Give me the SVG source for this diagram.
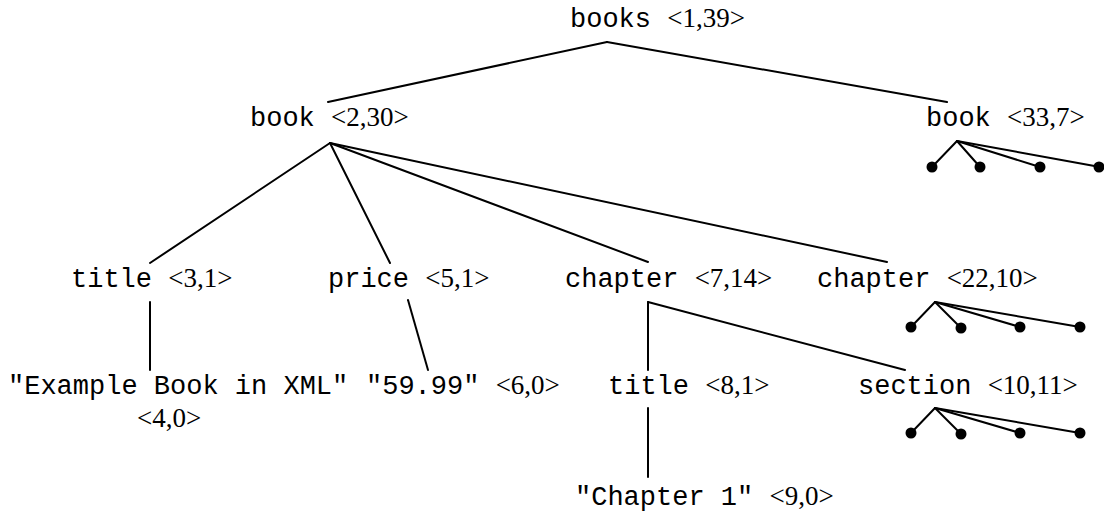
<svg xmlns="http://www.w3.org/2000/svg" width="1104" height="518" viewBox="0 0 1104 518">
  <style>
    .lbl { font-family: "Liberation Mono", "Courier New", monospace; font-size: 27px; fill: #000; }
    .num { font-family: "Liberation Serif", "Times New Roman", serif; font-size: 27px; }
    .edge { stroke: #000; stroke-width: 2; fill: none; stroke-linecap: round; }
    .leaf { fill: #000; }
  </style>
  <rect width="1104" height="518" fill="#fff"/>

  <!-- tree edges -->
  <g id="edges" class="edge">
    <line x1="607" y1="42" x2="328" y2="102"/>
    <line x1="607" y1="42" x2="947" y2="102"/>
    <line x1="330" y1="143" x2="150" y2="263"/>
    <line x1="330" y1="143" x2="390" y2="263"/>
    <line x1="330" y1="143" x2="648" y2="262"/>
    <line x1="330" y1="143" x2="887" y2="262"/>
    <line x1="150" y1="302" x2="150" y2="370"/>
    <line x1="408" y1="300" x2="428" y2="370"/>
    <line x1="648" y1="302" x2="648" y2="370"/>
    <line x1="648" y1="302" x2="905" y2="370"/>
    <line x1="648" y1="408" x2="648" y2="477"/>
    <!-- collapsed subtrees -->
    <g id="stub-book-33">
      <line x1="957" y1="141" x2="932" y2="167"/>
      <line x1="957" y1="141" x2="980" y2="167"/>
      <line x1="957" y1="141" x2="1040" y2="167"/>
      <line x1="957" y1="141" x2="1100" y2="167"/>
    </g>
    <g id="stub-chapter-22">
      <line x1="935" y1="302" x2="911" y2="327"/>
      <line x1="935" y1="302" x2="961" y2="328"/>
      <line x1="935" y1="302" x2="1020" y2="327"/>
      <line x1="935" y1="302" x2="1080" y2="327"/>
    </g>
    <g id="stub-section-10">
      <line x1="935" y1="408" x2="911" y2="433"/>
      <line x1="935" y1="408" x2="961" y2="434"/>
      <line x1="935" y1="408" x2="1020" y2="433"/>
      <line x1="935" y1="408" x2="1080" y2="433"/>
    </g>
  </g>

  <g id="leaves" class="leaf">
    <circle cx="932" cy="167" r="5.5"/>
    <circle cx="980" cy="167" r="5.5"/>
    <circle cx="1040" cy="167" r="5.5"/>
    <circle cx="1099" cy="167" r="5.5"/>
    <circle cx="911" cy="327" r="5.5"/>
    <circle cx="961" cy="328" r="5.5"/>
    <circle cx="1020" cy="327" r="5.5"/>
    <circle cx="1080" cy="327" r="5.5"/>
    <circle cx="911" cy="433" r="5.5"/>
    <circle cx="961" cy="434" r="5.5"/>
    <circle cx="1020" cy="433" r="5.5"/>
    <circle cx="1080" cy="433" r="5.5"/>
  </g>

  <g id="n-books"><text class="lbl" x="570" y="27">books <tspan class="num">&lt;1,39&gt;</tspan></text></g>
  <g id="n-book-2"><text class="lbl" x="250" y="126">book <tspan class="num">&lt;2,30&gt;</tspan></text></g>
  <g id="n-book-33"><text class="lbl" x="926" y="126">book <tspan class="num">&lt;33,7&gt;</tspan></text></g>
  <g id="n-title-3"><text class="lbl" x="71" y="287">title <tspan class="num">&lt;3,1&gt;</tspan></text></g>
  <g id="n-price-5"><text class="lbl" x="328" y="287">price <tspan class="num">&lt;5,1&gt;</tspan></text></g>
  <g id="n-chapter-7"><text class="lbl" x="565" y="287">chapter <tspan class="num">&lt;7,14&gt;</tspan></text></g>
  <g id="n-chapter-22"><text class="lbl" x="817" y="287">chapter <tspan class="num">&lt;22,10&gt;</tspan></text></g>
  <g id="n-text-4">
    <text class="lbl" x="8" y="394">"Example Book in XML"</text>
    <text class="num" x="137" y="427">&lt;4,0&gt;</text>
  </g>
  <g id="n-text-6"><text class="lbl" x="366" y="394">"59.99" <tspan class="num">&lt;6,0&gt;</tspan></text></g>
  <g id="n-title-8"><text class="lbl" x="608" y="394">title <tspan class="num">&lt;8,1&gt;</tspan></text></g>
  <g id="n-section-10"><text class="lbl" x="858" y="394">section <tspan class="num">&lt;10,11&gt;</tspan></text></g>
  <g id="n-text-9"><text class="lbl" x="575" y="505">"Chapter 1" <tspan class="num">&lt;9,0&gt;</tspan></text></g>
</svg>
